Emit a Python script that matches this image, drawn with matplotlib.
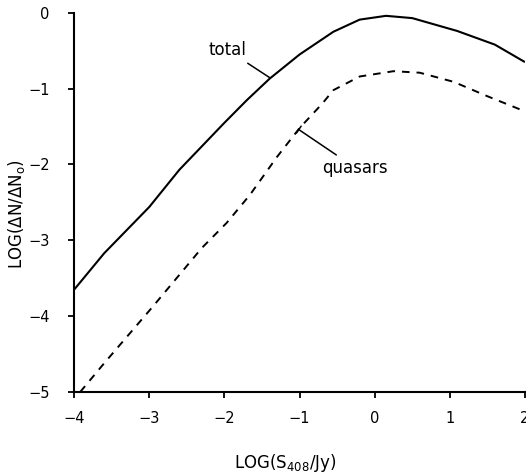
import matplotlib
matplotlib.use("Agg")
import matplotlib.pyplot as plt
from matplotlib.patches import ArrowStyle

plt.rcParams['lines.scale_dashes'] = False

total_x = [-4.0, -3.6, -3.0, -2.6, -2.0, -1.7, -1.4, -1.0, -0.55, -0.2, 0.15, 0.5, 1.1, 1.6, 2.0]
total_y = [-3.65, -3.17, -2.56, -2.07, -1.45, -1.15, -0.87, -0.55, -0.25, -0.09, -0.04, -0.07, -0.24, -0.42, -0.65]

quasar_x = [-3.92, -3.6, -2.95, -2.3, -1.97, -1.66, -1.3, -1.0, -0.7, -0.55, -0.2, 0.25, 0.6, 1.05, 1.5, 2.0]
quasar_y = [-5.0, -4.62, -3.87, -3.10, -2.77, -2.40, -1.90, -1.52, -1.20, -1.02, -0.84, -0.77, -0.79, -0.91, -1.10, -1.30]

x_ticks = [-4, -3, -2, -1, 0, 1, 2]
y_ticks = [0, -1, -2, -3, -4, -5]

fig = plt.figure(figsize=(5.26, 4.74), dpi=100)
ax = fig.add_axes([0.141, 0.173, 0.857, 0.80])

ax.plot(total_x, total_y, color='black', lw=1.5, solid_capstyle='butt')
ax.plot(quasar_x, quasar_y, color='black', lw=1.4, linestyle=(0, (5.5, 5.0)))

ax.set_xlim(-4, 2)
ax.set_ylim(-5, 0)
ax.set_xticks(x_ticks)
ax.set_yticks(y_ticks)
ax.set_xticklabels([str(t).replace('-', '\u2212') for t in x_ticks])
ax.set_yticklabels([str(t).replace('-', '\u2212') for t in y_ticks])

for s in ['top', 'right']:
    ax.spines[s].set_visible(False)
for s in ['left', 'bottom']:
    ax.spines[s].set_linewidth(1.5)

ax.tick_params(axis='both', direction='out', length=4.5, width=1.3, labelsize=10.5)
ax.tick_params(axis='x', pad=9)
ax.tick_params(axis='y', pad=13)

ax.set_xlabel(r'LOG(S$_{408}$/Jy)', fontsize=12)
ax.set_ylabel(r'LOG($\Delta$N/$\Delta$N$_{\mathrm{o}}$)', fontsize=12)
ax.xaxis.set_label_coords(0.468, -0.158)
ax.yaxis.set_label_coords(-0.104, 0.47)

ax.annotate('total', xy=(-1.39, -0.86), xytext=(-1.96, -0.49),
            ha='center', va='center', fontsize=12,
            arrowprops=dict(arrowstyle='-', color='black', lw=1.1,
                            shrinkA=2, shrinkB=0))
ax.annotate('quasars', xy=(-1.01, -1.54), xytext=(-0.7, -2.04),
            ha='left', va='center', fontsize=12,
            arrowprops=dict(arrowstyle=ArrowStyle('-[', widthB=0.25, lengthB=0.0),
                            color='black', lw=1.1, shrinkA=1, shrinkB=0))

fig.savefig('out.png', dpi=100)
